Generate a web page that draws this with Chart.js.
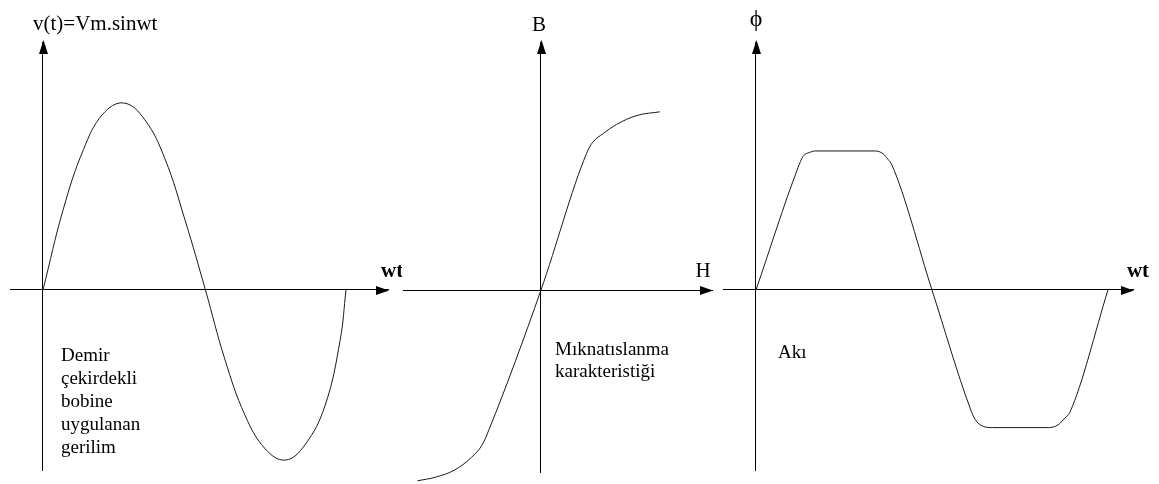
<!DOCTYPE html>
<html>
<head>
<meta charset="utf-8">
<script src="https://cdn.jsdelivr.net/npm/chart.js@4"></script>
<style>
  html, body { margin: 0; padding: 0; background: #fff; }
  body { width: 1159px; height: 484px; position: relative; overflow: hidden; }
  canvas { position: absolute; top: 0; }
</style>
</head>
<body>
<canvas id="gerilim" width="402" height="484" style="left:0px"></canvas>
<canvas id="bh" width="320" height="484" style="left:400px"></canvas>
<canvas id="aki" width="439" height="484" style="left:720px"></canvas>
<script>
// gerilim: wt (derece) / v (Vm birimi)
const sineDeg = [0, 24, 48, 71, 96, 121, 145, 169, 193, 216, 240, 264, 288, 311, 335, 353, 360];
const sineV = [0, 0.43, 0.75, 0.94, 1.0, 0.91, 0.7, 0.37, 0, -0.37, -0.67, -0.85, -0.91, -0.83, -0.62, -0.27, 0];

// miknatislanma egrisi: H / B
const bhH = [-1.03, -0.88, -0.72, -0.58, -0.49, -0.43, 0, 0.38, 0.43, 0.52, 0.63, 0.8, 0.99];
const bhB = [-1.06, -1.04, -1.0, -0.93, -0.86, -0.77, 0, 0.76, 0.82, 0.87, 0.92, 0.97, 0.99];

// aki: wt (derece) / phi
const fluxDeg = [0, 43, 48, 55, 60, 122, 130, 135, 139, 180, 219, 224, 232, 242, 299, 309, 316, 321, 360];
const fluxPhi = [0, 0.88, 0.96, 0.99, 1.0, 1.0, 0.98, 0.94, 0.9, 0, -0.85, -0.93, -0.98, -0.99, -0.99, -0.97, -0.92, -0.88, 0];

const notes1 = ["Demir", "çekirdekli", "bobine", "uygulanan", "gerilim"];
const notes2 = ["Mıknatıslanma", "karakteristiği"];
const notes3 = ["Akı"];

const SERIF = "'Liberation Serif', 'Times New Roman', serif";

const toPoints = (xs, ys) => xs.map((x, i) => ({ x: x, y: ys[i] }));

// ok uclari
const arrows = {
  id: "arrows",
  afterDraw(chart) {
    const { ctx, chartArea, scales } = chart;
    const ox = scales.x.getPixelForValue(0);
    const oy = scales.y.getPixelForValue(0);
    ctx.save();
    ctx.fillStyle = "#000";
    ctx.beginPath();
    ctx.moveTo(ox + 0.5, chartArea.top - 2);
    ctx.lineTo(ox - 4, chartArea.top + 12);
    ctx.lineTo(ox + 5, chartArea.top + 12);
    ctx.closePath();
    ctx.fill();
    ctx.beginPath();
    ctx.moveTo(chartArea.right + 1, oy + 0.5);
    ctx.lineTo(chartArea.right - 12, oy - 4);
    ctx.lineTo(chartArea.right - 12, oy + 5);
    ctx.closePath();
    ctx.fill();
    ctx.restore();
  },
};

const makeNotes = (items) => ({
  id: "notes",
  afterDraw(chart) {
    const { ctx, scales } = chart;
    ctx.save();
    ctx.fillStyle = "#000";
    ctx.textBaseline = "alphabetic";
    items.forEach((n) => {
      ctx.font = n.font;
      ctx.textAlign = n.align || "left";
      const px = scales.x.getPixelForValue(n.x);
      const py = scales.y.getPixelForValue(n.y);
      n.lines.forEach((t, i) => ctx.fillText(t, px, py + i * (n.lineHeight || 0)));
    });
    ctx.restore();
  },
});

const axisOpts = (min, max, pos) => ({
  type: "linear",
  min: min,
  max: max,
  position: pos,
  grid: { display: false },
  ticks: { display: false },
  border: { display: true, color: "#000", width: 1 },
});

const makeChart = (id, points, xr, yr, padding, notes, smooth) =>
  new Chart(document.getElementById(id), {
    type: "line",
    data: {
      datasets: [
        Object.assign(
          {
            data: points,
            borderColor: "#1a1a1a",
            borderWidth: 1,
            pointRadius: 0,
            fill: false,
            clip: false,
          },
          smooth
        ),
      ],
    },
    options: {
      responsive: false,
      animation: false,
      events: [],
      layout: { padding: padding, autoPadding: false },
      plugins: { legend: { display: false }, tooltip: { enabled: false } },
      scales: {
        x: axisOpts(xr[0], xr[1], { y: 0 }),
        y: axisOpts(yr[0], yr[1], { x: 0 }),
      },
    },
    plugins: [arrows, makeNotes(notes)],
  });

makeChart(
  "gerilim",
  toPoints(sineDeg, sineV),
  [-39.2, 409.9],
  [-0.963, 1.326],
  { left: 10, right: 14, top: 42, bottom: 14 },
  [
    { lines: ["v(t)=Vm.sinwt"], x: -11.9, y: 1.39, font: "21px " + SERIF },
    { lines: ["wt"], x: 401.6, y: 0.07, font: "bold 21px " + SERIF },
    { lines: notes1, x: 21.4, y: -0.38, lineHeight: 23, font: "19px " + SERIF },
  ],
  { tension: 0.4 }
);

makeChart(
  "bh",
  toPoints(bhH, bhB),
  [-1.15, 1.425],
  [-1.011, 1.378],
  { left: 3, right: 8, top: 42, bottom: 12 },
  [
    { lines: ["B"], x: -0.017, y: 1.439, align: "center", font: "21px " + SERIF },
    { lines: ["H"], x: 1.35, y: 0.072, align: "center", font: "21px " + SERIF },
    { lines: notes2, x: 0.117, y: -0.361, lineHeight: 22, font: "19px " + SERIF },
  ],
  { cubicInterpolationMode: "monotone" }
);

makeChart(
  "aki",
  toPoints(fluxDeg, fluxPhi),
  [-33.75, 385.6],
  [-1.295, 1.784],
  { left: 3, right: 26, top: 42, bottom: 14 },
  [
    { lines: ["ϕ"], x: 0, y: 1.899, align: "center", font: "24px " + SERIF },
    { lines: ["wt"], x: 379.4, y: 0.094, font: "bold 21px " + SERIF },
    { lines: notes3, x: 22.5, y: -0.489, font: "19px " + SERIF },
  ],
  { cubicInterpolationMode: "monotone" }
);
</script>
</body>
</html>
